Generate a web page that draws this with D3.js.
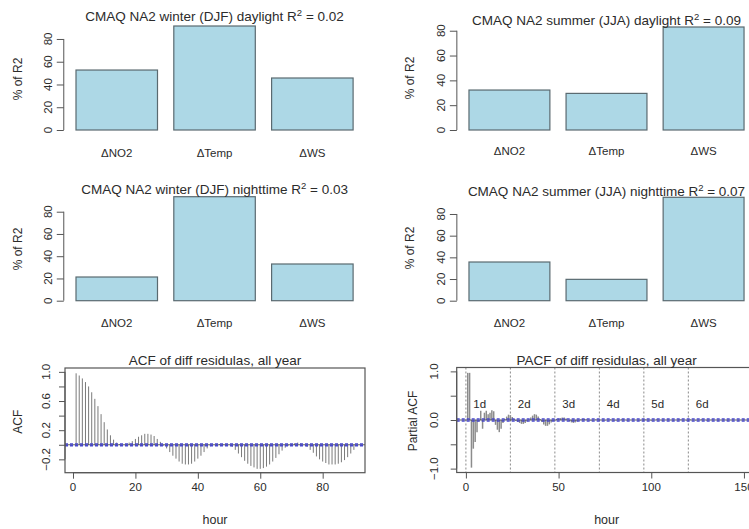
<!DOCTYPE html>
<html>
<head>
<meta charset="utf-8">
<script src="https://cdn.jsdelivr.net/npm/d3@7/dist/d3.min.js"></script>
<style>
  html, body { margin: 0; padding: 0; background: #fff; }
  svg { display: block; font-family: "Liberation Sans", Arial, Helvetica, sans-serif; }
</style>
</head>
<body>
<svg id="chart" width="749" height="529"></svg>
<script>
// ---------------- data ----------------
const categories = ["\u0394NO2", "\u0394Temp", "\u0394WS"];
const winterDaylight = [52.7, 91.4, 45.7];
const summerDaylight = [32.2, 29.5, 83.0];
const winterNighttime = [21.3, 93.5, 33.0];
const summerNighttime = [35.7, 19.7, 95.4];
const barTitlePrefixes = ["CMAQ NA2 winter (DJF) daylight ", "CMAQ NA2 summer (JJA) daylight ",
                          "CMAQ NA2 winter (DJF) nighttime ", "CMAQ NA2 summer (JJA) nighttime "];
const barR2 = ["0.02", "0.09", "0.03", "0.07"];
const barTicks = [0, 20, 40, 60, 80];

const acfValues = [
  0.98,0.95,0.91,0.86,0.80,0.72,0.63,0.53,0.42,0.31,0.21,0.13,0.07,0.03,
  0.01,0.00,0.01,0.03,0.05,0.08,0.11,0.13,0.15,0.15,0.14,0.12,0.08,0.04,
  -0.01,-0.05,-0.10,-0.15,-0.19,-0.23,-0.26,-0.27,-0.27,-0.26,-0.23,-0.19,-0.15,-0.10,-0.05,-0.02,0.00,0.01,0.01,0.01,
  0.01,0.00,-0.03,-0.07,-0.12,-0.17,-0.22,-0.26,-0.29,-0.31,-0.33,-0.33,-0.32,-0.30,-0.27,-0.23,-0.18,-0.13,-0.08,-0.04,-0.01,0.01,0.02,0.03,0.02,0.00,
  -0.03,-0.07,-0.11,-0.16,-0.20,-0.23,-0.25,-0.27,-0.27,-0.27,-0.26,-0.24,-0.21,-0.17,-0.12,-0.07
];
const acfTicksX = [0, 20, 40, 60, 80];
const acfTicksY = [-0.2, 0, 0.2, 0.4, 0.6, 0.8, 1.0];
const acfLabelsY = [-0.2, 0.2, 0.6, 1.0];

const pacfValues = [
  0.97,0.97,-0.98,-0.59,-0.45,-0.25,-0.03,0.19,-0.18,0.15,
  0.19,0.12,0.15,0.20,0.18,-0.10,-0.20,-0.25,-0.18,-0.06,
  0.02,0.07,0.11,0.10,0.06,0.02,-0.02,-0.04,-0.06,-0.08,
  -0.08,-0.06,-0.03,0.01,0.05,0.09,0.12,0.11,0.07,0.02,
  -0.04,-0.09,-0.12,-0.12,-0.09,-0.05,-0.02,0.00,0.02,0.03,
  0.04,0.05,0.05,0.03,0.00,-0.03,-0.05,-0.06,-0.05,-0.03,
  -0.01,0.01,0.02,0.02,0.01,
  0.00,-0.01,-0.01,0.00,0.01,0.01,0.01,0.00,-0.01,-0.01,
  0.00,0.00,0.01,0.00,-0.01,-0.01,0.00,0.00,0.01,0.01,
  0.00,-0.01,0.00,0.00,0.01,0.00,0.00,-0.01,-0.01,0.00,
  0.01,0.01,0.00,0.00,-0.01,0.00,0.00,0.01,0.00,0.00,
  -0.01,0.00,0.00,0.01,0.00,0.00,-0.01,0.00,0.00,0.01,
  0.01,0.00,0.00,-0.01,0.00,0.01,0.00,0.00,-0.01,0.00,
  0.00,0.01,0.00,0.00,-0.01,0.00,0.00,0.01,0.00,0.00,
  -0.01,0.00,0.00,0.01,0.00,-0.01,0.00,0.00,0.01,0.00,
  0.00,-0.01,0.00,0.00,0.01
];
const pacfTicksX = [0, 50, 100, 150];
const pacfTicksY = [-1, -0.5, 0, 0.5, 1];
const pacfLabelsY = [-1, 0, 1];
const dayLines = [0, 24, 48, 72, 96, 120];
const dayLabels = ["1d", "2d", "3d", "4d", "5d", "6d"];

// ---------------- drawing ----------------
const svg = d3.select("#chart");
const TXT = "#2b2b2b";
const AX = "#555";

function rotLabel(g, x, y, text, size) {
  g.append("text").attr("transform", `translate(${x},${y}) rotate(-90)`)
    .attr("text-anchor", "middle").attr("dominant-baseline", "central")
    .attr("font-size", size).attr("fill", TXT).text(text);
}

function titleR2(g, cx, by, prefix, r2) {
  const t = g.append("text").attr("x", cx).attr("y", by).attr("text-anchor", "middle")
    .attr("font-size", 13.5).attr("fill", TXT);
  t.append("tspan").text(prefix + "R");
  t.append("tspan").attr("dy", -5).attr("font-size", 9.5).text("2");
  t.append("tspan").attr("dy", 5).text(" = " + r2);
}

const barPanels = [
  {vals: winterDaylight,  ox: 59.7,  unit: 81.5, y0: 130,   ytop: 26,    ty: 21,    ly: 157,   ylx: 18,  yly: 79},
  {vals: summerDaylight,  ox: 452.8, unit: 80.9, y0: 130,   ytop: 27,    ty: 25,    ly: 155,   ylx: 410, yly: 78},
  {vals: winterNighttime, ox: 59.7,  unit: 81.5, y0: 300.7, ytop: 196.7, ty: 193.5, ly: 326.5, ylx: 18,  yly: 249},
  {vals: summerNighttime, ox: 452.8, unit: 80.9, y0: 300.7, ytop: 197.3, ty: 195.5, ly: 326.5, ylx: 410, yly: 248}
];

barPanels.forEach((p, i) => {
  const g = svg.append("g");
  const x = d3.scaleLinear().domain([0, 3.8]).range([p.ox, p.ox + 3.8 * p.unit]);
  const y = d3.scaleLinear().domain([0, d3.max(p.vals)]).range([p.y0, p.ytop]);
  const bw = 1, sp = 0.2;
  const left = j => sp + j * (bw + sp);
  g.selectAll("rect.bar").data(p.vals).join("rect")
    .attr("x", (d, j) => x(left(j)))
    .attr("width", (d, j) => x(left(j) + bw) - x(left(j)))
    .attr("y", d => y(d))
    .attr("height", d => y(0) - y(d))
    .attr("fill", "#add8e6").attr("stroke", "#5a6a70").attr("stroke-width", 1.2);
  // y axis
  const axX = x(0.05);
  const ya = g.append("g").attr("transform", `translate(${axX},0)`)
    .call(d3.axisLeft(y).tickValues(barTicks).tickSize(7).tickFormat(""));
  ya.select(".domain").attr("d", `M0,${y(barTicks[0])}V${y(barTicks[barTicks.length-1])}`).attr("stroke", AX);
  ya.selectAll(".tick line").attr("stroke", AX);
  barTicks.forEach(t => rotLabel(g, axX - 16, y(t), String(t), 11.5));
  // categories
  categories.forEach((c, j) => {
    g.append("text").attr("x", x(left(j) + bw / 2)).attr("y", p.ly).attr("text-anchor", "middle")
      .attr("font-size", 11.5).attr("fill", TXT).text(c);
  });
  rotLabel(g, p.ylx, p.yly, "% of R2", 12);
  const cx = (x(0.064) + x(3.736)) / 2;
  titleR2(g, cx, p.ty, barTitlePrefixes[i], barR2[i]);
});

// ---------------- ACF ----------------
(function () {
  const g = svg.append("g");
  const L = acfValues.length;
  const pad = 0.04 * (L - 1);
  const x = d3.scaleLinear().domain([1 - pad, L + pad]).range([65, 365]);
  const y = d3.scaleLinear().domain([-0.383, 1.053]).range([472.7, 368]);
  g.selectAll("line.bar").data(acfValues).join("line")
    .attr("x1", (d, i) => x(i + 1)).attr("x2", (d, i) => x(i + 1))
    .attr("y1", y(0)).attr("y2", d => y(d))
    .attr("stroke", "#7a7a7a").attr("stroke-width", 1);
  g.append("line").attr("x1", x.range()[0]).attr("x2", x.range()[1]).attr("y1", y(0)).attr("y2", y(0))
    .attr("stroke", "#333").attr("stroke-width", 0.8);
  [0.012, -0.012].forEach(c => g.append("line").attr("x1", x.range()[0]).attr("x2", x.range()[1])
    .attr("y1", y(c)).attr("y2", y(c)).attr("stroke", "#4848cc").attr("stroke-width", 1.5)
    .attr("stroke-dasharray", "3,2"));
  g.append("rect").attr("x", 65).attr("y", 368).attr("width", 300).attr("height", 104.7)
    .attr("fill", "none").attr("stroke", AX).attr("stroke-width", 1.2);
  const xa = g.append("g").attr("transform", "translate(0,472.7)")
    .call(d3.axisBottom(x).tickValues(acfTicksX).tickSize(6).tickFormat(""));
  xa.select(".domain").attr("d", `M${x(0)},0H${x(80)}`).attr("stroke", AX);
  xa.selectAll(".tick line").attr("stroke", AX);
  acfTicksX.forEach(t => g.append("text").attr("x", x(t)).attr("y", 491).attr("text-anchor", "middle")
    .attr("font-size", 11.5).attr("fill", TXT).text(t));
  const ya = g.append("g").attr("transform", "translate(65,0)")
    .call(d3.axisLeft(y).tickValues(acfTicksY).tickSize(6).tickFormat(""));
  ya.select(".domain").attr("d", `M0,${y(-0.2)}V${y(1)}`).attr("stroke", AX);
  ya.selectAll(".tick line").attr("stroke", AX);
  acfLabelsY.forEach(t => rotLabel(g, 46, y(t), d3.format(".1f")(t), 11.5));
  rotLabel(g, 18, 421.7, "ACF", 12);
  g.append("text").attr("x", 215).attr("y", 524).attr("text-anchor", "middle")
    .attr("font-size", 12.5).attr("fill", TXT).text("hour");
  g.append("text").attr("x", 215).attr("y", 365).attr("text-anchor", "middle")
    .attr("font-size", 13.5).attr("fill", TXT).text("ACF of diff residulas, all year");
})();

// ---------------- PACF ----------------
(function () {
  const g = svg.append("g");
  const L = pacfValues.length;
  const pad = 0.04 * (L - 1);
  const x = d3.scaleLinear().domain([1 - pad, L + pad]).range([456.7, 755]);
  const y = d3.scaleLinear().domain([-1.08, 1.08]).range([472.5, 367.5]);
  dayLines.forEach(d => g.append("line").attr("x1", x(d)).attr("x2", x(d))
    .attr("y1", 367.5).attr("y2", 472.5).attr("stroke", "#8a8a8a").attr("stroke-width", 1)
    .attr("stroke-dasharray", "2,2"));
  g.selectAll("line.bar").data(pacfValues).join("line")
    .attr("x1", (d, i) => x(i + 1)).attr("x2", (d, i) => x(i + 1))
    .attr("y1", y(0)).attr("y2", d => y(d))
    .attr("stroke", "#8c8c8c").attr("stroke-width", 1.5);
  g.append("line").attr("x1", x.range()[0]).attr("x2", x.range()[1]).attr("y1", y(0)).attr("y2", y(0))
    .attr("stroke", "#333").attr("stroke-width", 0.8);
  [0.02, -0.02].forEach(c => g.append("line").attr("x1", x.range()[0]).attr("x2", x.range()[1])
    .attr("y1", y(c)).attr("y2", y(c)).attr("stroke", "#4848cc").attr("stroke-width", 1.5)
    .attr("stroke-dasharray", "3,2"));
  dayLabels.forEach((t, i) => g.append("text").attr("x", x(dayLines[i] + 4)).attr("y", 407.5)
    .attr("font-size", 11.5).attr("fill", TXT).text(t));
  g.append("rect").attr("x", 456.7).attr("y", 367.5).attr("width", 755 - 456.7).attr("height", 105)
    .attr("fill", "none").attr("stroke", AX).attr("stroke-width", 1.2);
  const xa = g.append("g").attr("transform", "translate(0,472.5)")
    .call(d3.axisBottom(x).tickValues(pacfTicksX).tickSize(6).tickFormat(""));
  xa.select(".domain").attr("d", `M${x(0)},0H${x(150)}`).attr("stroke", AX);
  xa.selectAll(".tick line").attr("stroke", AX);
  pacfTicksX.forEach(t => g.append("text").attr("x", x(t)).attr("y", 491).attr("text-anchor", "middle")
    .attr("font-size", 11.5).attr("fill", TXT).text(t));
  const ya = g.append("g").attr("transform", "translate(456.7,0)")
    .call(d3.axisLeft(y).tickValues(pacfTicksY).tickSize(6).tickFormat(""));
  ya.select(".domain").attr("d", `M0,${y(-1)}V${y(1)}`).attr("stroke", AX);
  ya.selectAll(".tick line").attr("stroke", AX);
  pacfLabelsY.forEach(t => rotLabel(g, 434, y(t), d3.format(".1f")(t), 11.5));
  rotLabel(g, 413, 421, "Partial ACF", 12);
  g.append("text").attr("x", 606.7).attr("y", 524).attr("text-anchor", "middle")
    .attr("font-size", 12.5).attr("fill", TXT).text("hour");
  g.append("text").attr("x", 606.7).attr("y", 365).attr("text-anchor", "middle")
    .attr("font-size", 13.5).attr("fill", TXT).text("PACF of diff residulas, all year");
})();
</script>
</body>
</html>
